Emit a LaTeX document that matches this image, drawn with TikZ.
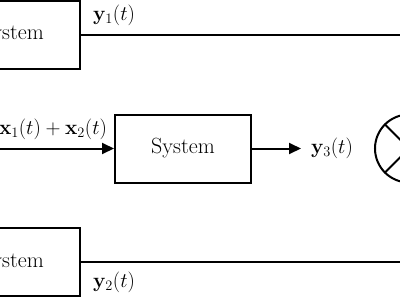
\documentclass[tikz,border=0pt]{standalone}
\usepackage{tikz}
\usetikzlibrary{arrows.meta}

\begin{document}
\begin{tikzpicture}[x=1pt, y=-1pt, line width=2pt, line cap=butt, line join=miter,
  sysbox/.style={draw, rectangle, minimum width=136pt, minimum height=68pt, inner sep=0pt,
                 font=\fontsize{22}{26}\selectfont},
  siglabel/.style={inner sep=0pt, font=\fontsize{20.5}{24}\selectfont},
  sigarrow/.style={-{Triangle[length=12pt,width=11pt]}}]

  % page frame first, so the parts past the edge are cut off
  \useasboundingbox (0,0) rectangle (400,300);

  % ════ three system blocks (left two run past the page edge) ════
  \node[sysbox] (sysTop) at (12,34.5) {System};
  \node[sysbox] (sysMid) at (183,148.5) {System};
  \node[sysbox] (sysBot) at (12,262) {System};

  % ════ multiplier (only its left half is on the page) ════
  \node[draw, circle, minimum size=68pt, inner sep=0pt] (mult) at (409,148.5) {};
  \draw (mult.north west) -- (mult.south east);
  \draw (mult.north east) -- (mult.south west);

  % ════ free ends of the wires ════
  \coordinate (xin)  at (-10,148.5);
  \coordinate (y1end) at (420,34.5);
  \coordinate (y2end) at (420,262);

  % ════ wires ════
  \draw (sysTop.east) -- (y1end);
  \draw (sysBot.east) -- (y2end);
  \draw[sigarrow] (xin) -- (sysMid.west);

  % ════ labels ════
  \node[siglabel] (lblx)  at (53,129) {$\mathbf{x}_1(t)+\mathbf{x}_2(t)$};
  \node[siglabel] (lbly1) at (114,15) {$\mathbf{y}_1(t)$};
  \node[siglabel] (lbly2) at (114,282) {$\mathbf{y}_2(t)$};
  \node[siglabel, anchor=west] (lbly3) at (310,148.5) {$\mathbf{y}_3(t)$};
  \draw[sigarrow] (sysMid.east) -- ([xshift=-9pt]lbly3.west);
\end{tikzpicture}
\end{document}
